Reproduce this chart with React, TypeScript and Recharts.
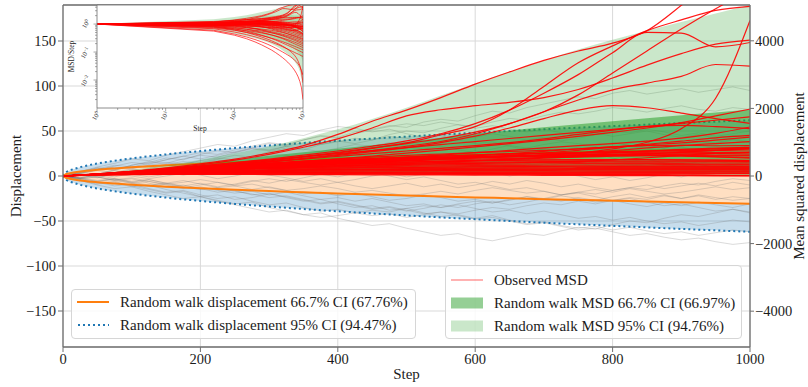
import React from 'react';
import {
  ComposedChart,
  Line,
  Area,
  XAxis,
  YAxis,
  CartesianGrid,
  ReferenceLine,
  Label,
} from 'recharts';

const FONT = "'Liberation Serif', 'DejaVu Serif', 'Noto Serif', serif";
const SPINE = '#6f6f6f';
const TEXT = '#1c1c1c';
const RED = '#ff0000';
const ORANGE = '#ff7f0e';
const BLUE = '#1f77b4';
const GREEN = '#2ca02c';

const stepTicks = [0, 200, 400, 600, 800, 1000];
const displacementTicks = [-150, -100, -50, 0, 50, 100, 150];
const msdTicks = [-4000, -2000, 0, 2000, 4000];

// simulated walks, sampled every 25 steps
const walkSteps = [
  0, 25, 50, 75, 100, 125, 150, 175, 200, 225, 250, 275, 300, 325, 350, 375, 400, 425, 450, 475, 500,
  525, 550, 575, 600, 625, 650, 675, 700, 725, 750, 775, 800, 825, 850, 875, 900, 925, 950, 975, 1000,
];

const randomWalks = [
  [0, 4, 9, 6, 12, 15, 20, 18, 24, 28, 26, 31, 36, 34, 40, 45, 43, 49, 52, 56, 54, 60, 63, 61, 67, 72, 70, 76, 80, 84, 88, 86, 92, 95, 91, 94, 97, 93, 96, 99, 95],
  [0, -3, 2, 6, 3, 8, 12, 10, 15, 19, 23, 21, 27, 31, 29, 35, 38, 42, 40, 46, 50, 48, 53, 57, 55, 60, 64, 62, 67, 71, 69, 72, 76, 74, 71, 75, 78, 74, 72, 76, 74],
  [0, 5, 10, 14, 19, 17, 23, 27, 31, 35, 33, 39, 43, 47, 45, 51, 55, 53, 49, 52, 47, 43, 45, 40, 36, 38, 33, 29, 31, 26, 22, 25, 20, 16, 19, 14, 10, 13, 9, 12, 8],
  [0, -4, -8, -6, -11, -15, -19, -17, -23, -27, -31, -29, -35, -39, -43, -41, -47, -51, -55, -53, -58, -62, -66, -64, -69, -72, -68, -64, -66, -61, -57, -59, -54, -50, -52, -47, -43, -45, -41, -37, -40],
  [0, 3, -1, -5, -3, -8, -12, -10, -14, -18, -16, -21, -19, -24, -28, -26, -31, -35, -33, -38, -36, -41, -45, -43, -47, -44, -49, -53, -51, -55, -58, -56, -60, -57, -61, -64, -62, -66, -63, -60, -62],
  [0, 2, -2, 3, 7, 5, 9, 6, 11, 14, 12, 16, 13, 18, 21, 17, 20, 24, 22, 26, 23, 19, 22, 25, 28, 24, 27, 31, 29, 25, 28, 32, 30, 26, 23, 27, 24, 28, 25, 21, 24],
  [0, -2, 1, -3, -6, -4, -8, -5, -9, -13, -11, -15, -12, -16, -20, -18, -22, -19, -23, -27, -25, -21, -24, -28, -26, -30, -27, -23, -26, -22, -25, -29, -27, -31, -34, -30, -33, -29, -32, -35, -31],
  [0, 3, 6, 4, 8, 5, 2, 5, 1, -3, 0, 4, 1, -2, -6, -3, -7, -4, 0, 3, -1, 2, 6, 9, 7, 11, 8, 4, 7, 3, 0, -4, -1, -5, -2, 2, -1, 3, 6, 4, 7],
  [0, 4, 2, 7, 11, 9, 13, 16, 14, 18, 15, 11, 14, 10, 6, 9, 5, 2, 4, 0, -4, -1, -5, -9, -7, -11, -15, -13, -17, -21, -19, -23, -27, -25, -29, -33, -31, -35, -39, -37, -41],
  [0, -3, -6, -4, -8, -11, -9, -13, -10, -7, -10, -6, -3, -6, -2, 2, -1, 3, 7, 5, 9, 13, 11, 15, 12, 16, 20, 18, 22, 26, 24, 28, 32, 30, 34, 31, 35, 39, 37, 41, 38],
  [0, 5, 9, 7, 12, 16, 14, 19, 23, 21, 26, 30, 28, 33, 37, 35, 39, 36, 40, 44, 42, 38, 41, 45, 43, 47, 44, 40, 43, 39, 42, 46, 50, 48, 52, 49, 45, 48, 44, 47, 50],
  [0, -4, -7, -11, -9, -14, -18, -16, -21, -25, -23, -28, -32, -30, -35, -39, -37, -41, -44, -42, -46, -43, -40, -42, -38, -35, -37, -33, -30, -32, -28, -31, -27, -24, -26, -22, -25, -21, -24, -27, -25],
  [0, -2, 2, -1, 3, 6, 4, 1, 4, 8, 6, 10, 7, 4, 7, 3, 6, 10, 8, 12, 9, 5, 8, 4, 1, 4, 0, 3, 7, 5, 9, 6, 10, 13, 11, 8, 12, 9, 6, 9, 5],
  [0, -3, -1, -5, -8, -6, -10, -14, -12, -16, -19, -17, -21, -18, -22, -26, -24, -28, -25, -29, -33, -31, -35, -32, -36, -40, -38, -42, -39, -43, -47, -45, -49, -46, -50, -53, -51, -55, -52, -49, -51],
  [0, 3, 7, 10, 8, 12, 15, 13, 17, 20, 18, 22, 25, 23, 20, 24, 21, 18, 21, 17, 14, 17, 13, 16, 19, 15, 18, 14, 11, 14, 17, 15, 19, 22, 18, 15, 18, 14, 17, 13, 16],
  [0, -3, -6, -3, -7, -4, -8, -11, -8, -12, -9, -5, -8, -4, -7, -10, -7, -11, -14, -11, -8, -12, -9, -13, -10, -6, -9, -5, -8, -12, -9, -13, -16, -13, -10, -14, -11, -8, -11, -7, -10],
  [0, 4, 8, 12, 10, 14, 18, 22, 19, 23, 27, 31, 29, 33, 30, 27, 31, 35, 33, 37, 34, 30, 33, 29, 26, 30, 34, 31, 35, 38, 36, 33, 37, 34, 31, 28, 32, 29, 33, 30, 34],
  [0, -5, -9, -7, -12, -10, -15, -19, -23, -21, -26, -24, -20, -23, -27, -31, -29, -33, -37, -35, -39, -36, -32, -35, -31, -28, -32, -29, -25, -28, -24, -27, -23, -20, -24, -21, -25, -22, -26, -23, -25],
  [0, -2, 1, 4, 2, -1, 2, 5, 8, 6, 3, 6, 9, 7, 10, 13, 11, 8, 11, 14, 12, 9, 6, 9, 12, 10, 7, 10, 13, 16, 14, 11, 8, 11, 14, 12, 15, 13, 10, 13, 12],
  [0, -2, -5, -3, -7, -10, -8, -12, -15, -13, -17, -20, -24, -22, -26, -30, -28, -32, -36, -34, -38, -42, -40, -44, -48, -46, -50, -54, -52, -56, -60, -58, -62, -66, -64, -68, -71, -69, -73, -76, -74],
  [0, 3, 7, 11, 15, 13, 18, 22, 26, 24, 29, 33, 37, 35, 40, 44, 42, 47, 51, 55, 58, 56, 60, 57, 53, 56, 52, 49, 52, 48, 45, 48, 44, 47, 50, 46, 43, 46, 42, 45, 44],
  [0, 2, -1, -4, -2, -6, -9, -7, -4, -7, -11, -9, -13, -16, -14, -11, -14, -18, -16, -19, -22, -20, -17, -20, -16, -13, -16, -19, -17, -21, -18, -15, -18, -14, -17, -20, -18, -15, -12, -15, -13],
  [0, -3, -1, 2, 0, -3, 0, 3, 6, 4, 8, 5, 9, 12, 10, 14, 11, 15, 18, 16, 20, 17, 21, 24, 22, 26, 23, 27, 30, 28, 32, 29, 33, 36, 34, 31, 35, 38, 36, 40, 37],
  [0, -5, -10, -14, -12, -17, -21, -25, -23, -28, -32, -36, -40, -38, -43, -46, -44, -41, -38, -40, -36, -33, -35, -31, -28, -30, -26, -23, -25, -21, -18, -20, -16, -13, -15, -11, -8, -10, -6, -3, -5],
];

// displacement confidence bands (half widths)
const bandSteps = [0, 5, 10, 25, 50, 75, 100, 150, 200, 250, 300, 350, 400, 450, 500, 550, 600, 650, 700, 750, 800, 850, 900, 950, 1000];
const ci95Half = [0, 4.4, 6.2, 9.8, 13.9, 17.0, 19.6, 24.0, 27.7, 31.0, 33.9, 36.7, 39.2, 41.6, 43.8, 46.0, 48.0, 50.0, 51.9, 53.7, 55.4, 57.1, 58.8, 60.4, 62.0];
const ci67Half = [0, 2.2, 3.1, 4.9, 6.9, 8.4, 9.7, 11.9, 13.7, 15.3, 16.8, 18.1, 19.4, 20.6, 21.7, 22.7, 23.8, 24.7, 25.7, 26.6, 27.4, 28.3, 29.1, 29.9, 30.7];

// MSD, sampled every 50 steps
const msdSteps = [0, 50, 100, 150, 200, 250, 300, 350, 400, 450, 500, 550, 600, 650, 700, 750, 800, 850, 900, 950, 1000];
const msdWideLow = [0, 30, 45, 55, 62, 66, 68, 68, 66, 63, 58, 54, 50, 45, 40, 35, 30, 25, 18, 10, 3];
const msdWideHigh = [0, 75, 180, 310, 480, 670, 880, 1120, 1380, 1690, 2020, 2380, 2740, 3090, 3420, 3740, 4030, 4300, 4560, 4810, 5050];
const msdNarrowLow = [0, 38, 60, 78, 90, 100, 108, 114, 118, 120, 120, 118, 115, 110, 104, 98, 90, 82, 72, 60, 45];
const msdNarrowHigh = [0, 62, 150, 250, 360, 480, 600, 705, 810, 910, 1010, 1130, 1250, 1345, 1440, 1530, 1620, 1710, 1800, 1880, 1960];

const observedMsd = [
  [0, 58, 140, 240, 360, 500, 680, 900, 1230, 1620, 1950, 2320, 2720, 3080, 3420, 3700, 3930, 4300, 5050, 5900, 6700],
  [0, 55, 125, 215, 330, 470, 640, 850, 1100, 1420, 1780, 1960, 2080, 2180, 2320, 2560, 2900, 3280, 3620, 3900, 4020],
  [0, 50, 110, 180, 260, 350, 450, 560, 680, 820, 980, 1220, 1460, 1950, 2650, 3350, 3850, 4300, 4620, 4900, 5020],
  [0, 55, 120, 195, 280, 370, 470, 580, 700, 830, 960, 1110, 1300, 1550, 1900, 2400, 3050, 3700, 4350, 4950, 5500],
  [0, 62, 135, 215, 300, 395, 500, 615, 740, 880, 1040, 1250, 1550, 1950, 2450, 3000, 3650, 4250, 4230, 3820, 3950],
  [0, 48, 105, 170, 245, 330, 420, 520, 630, 750, 880, 1020, 1250, 1550, 1900, 2250, 2550, 2750, 2950, 3300, 3250],
  [0, 53, 115, 182, 255, 335, 420, 510, 610, 720, 840, 990, 1180, 1420, 1700, 1950, 2080, 2020, 1860, 1700, 1560],
  [0, 47, 100, 158, 220, 286, 356, 430, 508, 590, 676, 766, 860, 958, 1060, 1170, 1290, 1420, 1580, 1780, 1980],
  [0, 45, 92, 140, 188, 236, 284, 330, 376, 420, 462, 502, 540, 580, 620, 680, 800, 1000, 1400, 2300, 4600],
  [0, 60, 135, 215, 300, 390, 480, 570, 660, 750, 840, 930, 1020, 1110, 1200, 1290, 1380, 1470, 1560, 1650, 1750],
  [0, 52, 115, 185, 260, 340, 420, 500, 580, 660, 740, 820, 900, 990, 1100, 1230, 1360, 1460, 1500, 1460, 1400],
  [0, 45, 98, 150, 205, 262, 320, 380, 440, 500, 560, 620, 690, 760, 830, 900, 960, 1030, 1120, 1260, 1450],
  [0, 55, 118, 180, 245, 310, 375, 440, 500, 560, 610, 650, 690, 725, 760, 800, 860, 940, 1030, 1130, 1200],
  [0, 48, 96, 142, 188, 232, 275, 318, 360, 405, 450, 500, 550, 610, 680, 760, 850, 920, 980, 1060, 1150],
  [0, 50, 104, 160, 215, 270, 322, 370, 412, 450, 485, 515, 545, 580, 625, 680, 750, 830, 900, 960, 1020],
  [0, 46, 92, 140, 188, 236, 284, 332, 380, 430, 480, 535, 595, 660, 730, 800, 860, 900, 910, 895, 900],
  [0, 54, 108, 160, 208, 252, 290, 322, 350, 375, 400, 428, 460, 500, 550, 610, 680, 740, 790, 825, 850],
  [0, 44, 86, 125, 162, 198, 232, 265, 298, 332, 368, 406, 446, 488, 530, 572, 612, 652, 700, 760, 820],
  [0, 50, 98, 142, 182, 218, 250, 278, 302, 322, 340, 356, 372, 390, 412, 440, 480, 540, 610, 670, 700],
  [0, 52, 112, 175, 240, 305, 365, 420, 470, 515, 555, 590, 620, 645, 665, 680, 690, 700, 720, 760, 800],
  [0, 48, 102, 158, 212, 262, 308, 350, 388, 422, 452, 478, 500, 520, 540, 560, 585, 610, 640, 670, 690],
  [0, 57, 122, 188, 250, 308, 362, 410, 452, 490, 522, 550, 572, 590, 602, 610, 612, 605, 590, 565, 530],
  [0, 50, 106, 164, 222, 278, 330, 378, 420, 458, 492, 524, 556, 590, 626, 664, 700, 735, 770, 800, 830],
  [0, 46, 96, 148, 198, 244, 286, 324, 358, 388, 414, 436, 454, 468, 478, 484, 486, 484, 478, 468, 455],
  [0, 54, 116, 178, 238, 294, 344, 388, 426, 460, 490, 518, 545, 572, 598, 625, 650, 672, 690, 700, 705],
  [0, 44, 92, 140, 186, 228, 266, 300, 330, 356, 378, 396, 410, 420, 428, 434, 438, 440, 440, 438, 435],
  [0, 56, 118, 180, 242, 302, 360, 414, 464, 510, 552, 590, 624, 654, 680, 702, 720, 735, 748, 760, 770],
  [0, 49, 104, 160, 215, 268, 318, 364, 406, 444, 478, 508, 534, 556, 574, 588, 598, 604, 606, 604, 600],
  [0, 51, 108, 166, 224, 280, 333, 382, 427, 468, 505, 538, 567, 592, 612, 628, 640, 648, 652, 652, 650],
  [0, 55, 120, 190, 260, 330, 390, 440, 480, 510, 540, 560, 575, 590, 600, 610, 620, 625, 600, 570, 550],
  [0, 48, 100, 160, 215, 265, 305, 340, 370, 395, 420, 440, 455, 465, 470, 475, 480, 485, 480, 470, 460],
  [0, 52, 110, 165, 210, 245, 270, 290, 310, 330, 350, 365, 380, 392, 400, 405, 410, 412, 415, 418, 420],
  [0, 45, 88, 128, 165, 198, 228, 255, 278, 298, 315, 330, 342, 352, 360, 366, 370, 374, 376, 378, 380],
  [0, 50, 95, 135, 170, 200, 225, 245, 262, 276, 288, 298, 306, 312, 318, 323, 328, 332, 335, 338, 340],
  [0, 42, 80, 112, 140, 165, 188, 208, 224, 238, 250, 260, 268, 275, 282, 288, 293, 296, 298, 300, 300],
  [0, 58, 112, 150, 178, 200, 218, 232, 244, 253, 260, 265, 268, 270, 272, 274, 276, 277, 278, 279, 280],
  [0, 46, 84, 112, 135, 155, 172, 186, 198, 208, 217, 225, 232, 238, 242, 245, 247, 248, 249, 250, 250],
  [0, 40, 72, 98, 120, 140, 156, 170, 182, 192, 200, 206, 210, 213, 215, 217, 218, 219, 220, 220, 220],
  [0, 50, 90, 118, 138, 152, 163, 172, 180, 186, 190, 193, 195, 196, 197, 197, 197, 196, 196, 195, 195],
  [0, 38, 66, 88, 106, 120, 132, 142, 150, 156, 160, 163, 166, 168, 169, 170, 170, 170, 170, 170, 170],
  [0, 44, 76, 98, 114, 126, 135, 142, 147, 150, 152, 152, 151, 150, 149, 148, 147, 146, 146, 145, 145],
  [0, 36, 60, 76, 88, 97, 104, 109, 113, 116, 118, 119, 120, 120, 121, 121, 121, 121, 121, 120, 120],
  [0, 42, 68, 84, 94, 100, 104, 106, 107, 107, 106, 105, 104, 103, 102, 100, 99, 98, 97, 96, 95],
  [0, 34, 52, 63, 70, 74, 77, 78, 79, 79, 78, 77, 76, 75, 74, 73, 72, 72, 71, 70, 70],
  [0, 30, 44, 52, 56, 58, 58, 57, 55, 53, 51, 49, 47, 45, 42, 39, 36, 32, 27, 21, 15],
  [0, 28, 40, 45, 46, 45, 43, 41, 38, 35, 32, 29, 26, 23, 20, 17, 14, 11, 8, 5, 2],
  [0, 40, 62, 75, 82, 86, 88, 88, 87, 85, 82, 79, 75, 70, 65, 58, 50, 40, 30, 18, 8],
];

// MSD at a lag of one step
const firstLagMsd = 1;

const legendDisplacement = [
  'Random walk displacement 66.7% CI (67.76%)',
  'Random walk displacement 95% CI (94.47%)',
];
const legendMsd = [
  'Observed MSD',
  'Random walk MSD 66.7% CI (66.97%)',
  'Random walk MSD 95% CI (94.76%)',
];

// tables for the library
const walkSeries = randomWalks.map((w) => walkSteps.map((step, i) => ({ step, v: w[i] })));
const dispBand = bandSteps.map((step, i) => ({
  step,
  wide: [-ci95Half[i], ci95Half[i]],
  narrow: [-ci67Half[i], ci67Half[i]],
  wideLo: -ci95Half[i],
  wideHi: ci95Half[i],
  narrowLo: -ci67Half[i],
  narrowHi: ci67Half[i],
}));
const msdBand = msdSteps.map((step, i) => ({
  step,
  wide: [msdWideLow[i], msdWideHigh[i]],
  narrow: [msdNarrowLow[i], msdNarrowHigh[i]],
}));
const msdSeries = observedMsd.map((m) => msdSteps.map((step, i) => ({ step, v: m[i] })));

// MSD divided by step, for the log-log panel
const perStepSeries = observedMsd.map((m) => [
  { step: 1, v: firstLagMsd },
  ...msdSteps.slice(1).map((step, i) => ({ step, v: m[i + 1] / step })),
]);
const perStepBand = [
  { step: 1, wide: [firstLagMsd, firstLagMsd], narrow: [firstLagMsd, firstLagMsd] },
  ...msdSteps.slice(1).map((step, i) => ({
    step,
    wide: [msdWideLow[i + 1] / step, msdWideHigh[i + 1] / step],
    narrow: [msdNarrowLow[i + 1] / step, msdNarrowHigh[i + 1] / step],
  })),
];

const logTicks = (from: number, to: number) => {
  const out: number[] = [];
  for (let e = from; e < to; e++) {
    for (let k = 1; k < 10; k++) out.push(k * Math.pow(10, e));
  }
  out.push(Math.pow(10, to));
  return out;
};
const insetStepTicks = logTicks(0, 3);
const insetRatioTicks = logTicks(-3, 0).filter((v) => v > 0.0015).concat([2, 3, 4]);

const isDecade = (v: number) => Math.abs(Math.log10(v) - Math.round(Math.log10(v))) < 1e-6;
const minus = (v: number) => String(v).replace('-', '\u2212');

const tickFont = { fill: TEXT, fontSize: 14.5, fontFamily: FONT };

const StepTitle = (props: any) => {
  const vb = props.viewBox || { x: 63, y: 347, width: 687, height: 40 };
  return (
    <text x={vb.x + vb.width / 2} y={vb.y + 32} textAnchor="middle" fill={TEXT} fontSize={15} fontFamily={FONT}>
      Step
    </text>
  );
};

const DispTitle = (props: any) => {
  const vb = props.viewBox || { x: 0, y: 5, width: 63, height: 342 };
  const x = vb.x + 21;
  const y = vb.y + vb.height / 2;
  return (
    <text x={x} y={y} transform={`rotate(-90, ${x}, ${y})`} textAnchor="middle" fill={TEXT} fontSize={15} fontFamily={FONT}>
      Displacement
    </text>
  );
};

const MsdTitle = (props: any) => {
  const vb = props.viewBox || { x: 750, y: 5, width: 58, height: 342 };
  const x = vb.x + 54;
  const y = vb.y + vb.height / 2;
  return (
    <text x={x} y={y} transform={`rotate(-90, ${x}, ${y})`} textAnchor="middle" fill={TEXT} fontSize={15} fontFamily={FONT}>
      Mean squared displacement
    </text>
  );
};

const Power = ({ v }: { v: number }) => (
  <>
    10
    <tspan baselineShift="super" fontSize={4.8}>
      {minus(Math.round(Math.log10(v)))}
    </tspan>
  </>
);

const InsetStepTick = (props: any) => {
  const { x, y, payload } = props;
  const major = isDecade(payload.value);
  return (
    <g>
      <line x1={x} y1={y} x2={x} y2={y + (major ? 3.5 : 2)} stroke={SPINE} strokeWidth={0.6} />
      {major && (
        <text transform={`translate(${x + 3},${y + 5}) rotate(-60)`} textAnchor="end" fontSize={6.5} fontFamily={FONT} fill={TEXT}>
          <Power v={payload.value} />
        </text>
      )}
    </g>
  );
};

const InsetRatioTick = (props: any) => {
  const { x, y, payload } = props;
  const major = isDecade(payload.value);
  return (
    <g>
      <line x1={x - (major ? 3.5 : 2)} y1={y} x2={x} y2={y} stroke={SPINE} strokeWidth={0.6} />
      {major && (
        <text transform={`translate(${x - 7},${y - 3}) rotate(-60)`} textAnchor="end" fontSize={6.5} fontFamily={FONT} fill={TEXT}>
          <Power v={payload.value} />
        </text>
      )}
    </g>
  );
};

const InsetStepTitle = (props: any) => {
  const vb = props.viewBox || { x: 97, y: 108, width: 206, height: 32 };
  return (
    <text x={vb.x + vb.width / 2} y={vb.y + 23} textAnchor="middle" fontSize={7.5} fontFamily={FONT} fill={TEXT}>
      Step
    </text>
  );
};

const InsetRatioTitle = (props: any) => {
  const vb = props.viewBox || { x: 0, y: 5, width: 97, height: 103 };
  const x = vb.x + 74;
  const y = vb.y + vb.height / 2;
  return (
    <text x={x} y={y} transform={`rotate(-90, ${x}, ${y})`} textAnchor="middle" fontSize={7.5} fontFamily={FONT} fill={TEXT}>
      MSD/Step
    </text>
  );
};

const legendBox: React.CSSProperties = {
  position: 'absolute',
  boxSizing: 'border-box',
  background: 'rgba(255,255,255,0.82)',
  border: '1px solid #d6d6d6',
  borderRadius: 4,
  fontFamily: FONT,
  fontSize: 15,
  color: TEXT,
};

const LegendRow = ({ top, swatch, text }: { top: number; swatch: React.ReactNode; text: string }) => (
  <div style={{ position: 'absolute', left: 5, top: top - 8, height: 16, display: 'flex', alignItems: 'center', whiteSpace: 'nowrap' }}>
    <svg width={32} height={14} style={{ marginRight: 11, flex: 'none' }}>
      {swatch}
    </svg>
    <span>{text}</span>
  </div>
);

const App: React.FC = () => {
  return (
    <div style={{ position: 'absolute', left: 0, top: 0, width: 808, height: 387, background: '#fff', fontFamily: FONT }}>
      <ComposedChart width={808} height={387} margin={{ top: 5, right: 0, bottom: 0, left: 0 }}>
        <CartesianGrid yAxisId="disp" stroke="#d9d9d9" strokeWidth={1} />
        <XAxis
          dataKey="step"
          type="number"
          domain={[0, 1000]}
          ticks={stepTicks}
          interval={0}
          height={40}
          tickSize={5}
          tickMargin={2}
          axisLine={{ stroke: SPINE, strokeWidth: 1.3 }}
          tickLine={{ stroke: SPINE }}
          tick={tickFont}
          allowDataOverflow
        >
          <Label content={StepTitle} />
        </XAxis>
        <YAxis
          yAxisId="disp"
          type="number"
          domain={[-190, 190]}
          ticks={displacementTicks}
          interval={0}
          width={63}
          tickSize={5}
          tickMargin={2}
          tickFormatter={minus}
          axisLine={{ stroke: SPINE, strokeWidth: 1.3 }}
          tickLine={{ stroke: SPINE }}
          tick={tickFont}
          allowDataOverflow
        >
          <Label content={DispTitle} />
        </YAxis>
        <YAxis
          yAxisId="msd"
          orientation="right"
          type="number"
          domain={[-5060, 5060]}
          ticks={msdTicks}
          interval={0}
          width={58}
          tickSize={4}
          tickMargin={1}
          tickFormatter={minus}
          axisLine={{ stroke: SPINE, strokeWidth: 1.3 }}
          tickLine={{ stroke: SPINE }}
          tick={tickFont}
          allowDataOverflow
        >
          <Label content={MsdTitle} />
        </YAxis>
        <ReferenceLine yAxisId="disp" y={190} stroke={SPINE} strokeWidth={1.3} />

        {/* displacement bands */}
        <Area yAxisId="disp" data={dispBand} dataKey="wide" type="monotone" stroke="none" fill={BLUE} fillOpacity={0.25} isAnimationActive={false} zIndex={100} />
        <Area yAxisId="disp" data={dispBand} dataKey="narrow" type="monotone" stroke="none" fill="#ffdfc2" fillOpacity={1} isAnimationActive={false} zIndex={110} />

        {walkSeries.map((d, i) => (
          <Line
            key={`walk-${i}`}
            yAxisId="disp"
            data={d}
            dataKey="v"
            type="linear"
            stroke="#7a7a7a"
            strokeOpacity={0.4}
            strokeWidth={0.7}
            dot={false}
            activeDot={false}
            isAnimationActive={false}
            zIndex={200}
          />
        ))}

        {(['wideLo', 'wideHi'] as const).map((k) => (
          <Line key={k} yAxisId="disp" data={dispBand} dataKey={k} type="monotone" stroke={BLUE} strokeWidth={2} strokeDasharray="2 3" dot={false} activeDot={false} isAnimationActive={false} zIndex={300} />
        ))}
        {(['narrowLo', 'narrowHi'] as const).map((k) => (
          <Line key={k} yAxisId="disp" data={dispBand} dataKey={k} type="monotone" stroke={ORANGE} strokeWidth={2} dot={false} activeDot={false} isAnimationActive={false} zIndex={300} />
        ))}

        {/* MSD bands and observed MSD */}
        <Area yAxisId="msd" data={msdBand} dataKey="wide" type="monotone" stroke="none" fill={GREEN} fillOpacity={0.25} isAnimationActive={false} zIndex={400} />
        <Area yAxisId="msd" data={msdBand} dataKey="narrow" type="monotone" stroke="none" fill={GREEN} fillOpacity={0.55} isAnimationActive={false} zIndex={410} />

        {msdSeries.map((d, i) => (
          <Line
            key={`msd-${i}`}
            yAxisId="msd"
            data={d}
            dataKey="v"
            type="monotone"
            stroke={RED}
            strokeOpacity={0.9}
            strokeWidth={1.2}
            dot={false}
            activeDot={false}
            isAnimationActive={false}
            zIndex={450}
          />
        ))}
      </ComposedChart>

      {/* log-log panel */}
      <div style={{ position: 'absolute', left: 0, top: 0 }}>
        <ComposedChart width={306} height={140} margin={{ top: 5, right: 3, bottom: 0, left: 0 }}>
          <CartesianGrid horizontal={false} vertical={false} fill="#ffffff" fillOpacity={1} />
          <XAxis
            dataKey="step"
            type="number"
            scale="log"
            domain={[1, 1000]}
            ticks={insetStepTicks}
            interval={0}
            height={32}
            tickSize={0}
            tickMargin={0}
            tickLine={false}
            axisLine={{ stroke: SPINE, strokeWidth: 0.8 }}
            tick={InsetStepTick}
            allowDataOverflow
          >
            <Label content={InsetStepTitle} />
          </XAxis>
          <YAxis
            type="number"
            scale="log"
            domain={[0.001, 4.8]}
            ticks={insetRatioTicks}
            interval={0}
            width={97}
            tickSize={0}
            tickMargin={0}
            tickLine={false}
            axisLine={{ stroke: SPINE, strokeWidth: 0.8 }}
            tick={InsetRatioTick}
            allowDataOverflow
          >
            <Label content={InsetRatioTitle} />
          </YAxis>
          <ReferenceLine x={1000} stroke={SPINE} strokeWidth={0.8} />
          <ReferenceLine y={4.8} stroke={SPINE} strokeWidth={0.8} />
          <Area data={perStepBand} dataKey="wide" type="linear" stroke="none" fill={GREEN} fillOpacity={0.25} isAnimationActive={false} />
          <Area data={perStepBand} dataKey="narrow" type="linear" stroke="none" fill={GREEN} fillOpacity={0.2} isAnimationActive={false} />
          {perStepSeries.map((d, i) => (
            <Line
              key={`ratio-${i}`}
              data={d}
              dataKey="v"
              type="linear"
              stroke={RED}
              strokeOpacity={0.85}
              strokeWidth={0.8}
              dot={false}
              activeDot={false}
              isAnimationActive={false}
            />
          ))}
        </ComposedChart>
      </div>

      <div style={{ ...legendBox, left: 71, top: 289, width: 345, height: 50 }}>
        <LegendRow
          top={12}
          text={legendDisplacement[0]}
          swatch={<line x1={0} y1={7} x2={32} y2={7} stroke={ORANGE} strokeWidth={2} />}
        />
        <LegendRow
          top={35}
          text={legendDisplacement[1]}
          swatch={<line x1={1} y1={7} x2={32} y2={7} stroke={BLUE} strokeWidth={2} strokeDasharray="2 3" />}
        />
      </div>

      <div style={{ ...legendBox, left: 445, top: 265, width: 297, height: 74 }}>
        <LegendRow
          top={14}
          text={legendMsd[0]}
          swatch={<line x1={0} y1={7} x2={32} y2={7} stroke={RED} strokeOpacity={0.5} strokeWidth={1.2} />}
        />
        <LegendRow
          top={37}
          text={legendMsd[1]}
          swatch={<rect x={0} y={1.5} width={32} height={11} fill={GREEN} fillOpacity={0.5} />}
        />
        <LegendRow
          top={60}
          text={legendMsd[2]}
          swatch={<rect x={0} y={1.5} width={32} height={11} fill={GREEN} fillOpacity={0.25} />}
        />
      </div>
    </div>
  );
};

export default App;
